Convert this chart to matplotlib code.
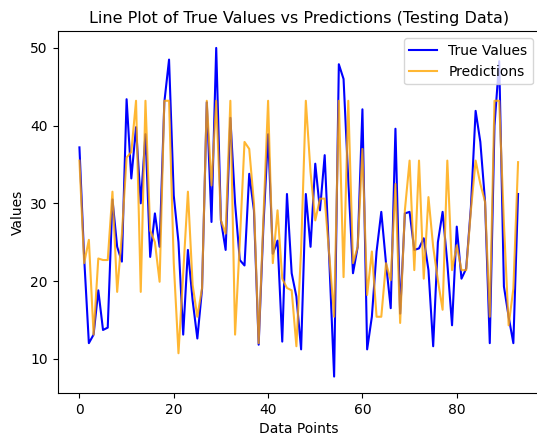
import matplotlib
matplotlib.use("Agg")
import matplotlib.pyplot as plt
import numpy as np

# values (94 test samples)
true_values = [
    37.2, 23.0, 12.0, 13.1, 18.8, 13.7, 14.0, 30.5, 24.4, 22.5,
    43.4, 33.2, 39.8, 30.0, 38.9, 23.1, 28.7, 24.4, 43.0, 48.5,
    31.0, 25.0, 13.1, 24.0, 17.5, 12.6, 19.0, 43.0, 27.6, 50.0,
    27.8, 24.0, 41.0, 30.0, 22.7, 22.0, 33.8, 29.1, 11.8, 27.0,
    38.9, 23.5, 25.2, 12.2, 31.2, 21.0, 18.0, 11.2, 31.2, 24.4,
    35.1, 29.1, 36.2, 22.3, 7.7, 47.9, 46.0, 33.0, 21.0, 24.4,
    42.1, 11.2, 15.4, 23.8, 28.9, 22.3, 16.5, 39.6, 15.8, 28.7,
    28.9, 24.0, 24.2, 25.5, 21.4, 11.6, 25.0, 28.9, 22.3, 14.3,
    27.0, 20.3, 21.6, 29.5, 41.9, 37.9, 30.2, 12.0, 40.0, 48.3,
    19.3, 15.4, 12.0, 31.2,
]
predictions = [
    35.5, 22.3, 25.3, 13.1, 22.9, 22.7, 22.7, 31.5, 18.6, 26.0,
    35.9, 36.6, 43.2, 18.6, 43.2, 26.5, 25.0, 19.9, 43.2, 43.2,
    22.3, 10.7, 21.0, 31.5, 19.5, 15.4, 19.1, 43.2, 32.3, 43.2,
    27.8, 26.1, 43.2, 13.1, 25.0, 37.9, 37.0, 30.0, 12.0, 28.0,
    43.2, 22.3, 29.1, 20.3, 19.1, 18.8, 11.6, 24.0, 43.2, 34.0,
    27.8, 30.6, 30.6, 23.1, 15.4, 43.2, 20.5, 43.2, 22.3, 24.4,
    37.0, 18.2, 23.8, 15.4, 15.4, 22.3, 20.1, 32.5, 14.6, 29.1,
    35.5, 21.4, 35.5, 20.3, 30.8, 24.4, 20.1, 16.3, 35.5, 21.4,
    24.6, 21.4, 21.4, 29.1, 35.5, 32.5, 30.2, 15.4, 43.2, 43.2,
    27.4, 14.3, 19.0, 35.3,
]

fig = plt.figure(figsize=(5.37, 4.36), dpi=100)
# the reference is cropped a couple of pixels past the right spine
ax = fig.add_axes([57.5 / 537, 43 / 436, (540 - 57.5) / 537, (393 - 31.5) / 436])

ax.plot(true_values, color="blue", linewidth=1.5, label="True Values")
ax.plot(predictions, color="orange", alpha=0.8, linewidth=1.5, label="Predictions")

ax.set_title("Line Plot of True Values vs Predictions (Testing Data)", fontsize=11.5)
ax.set_xlabel("Data Points", fontsize=10)
ax.set_ylabel("Values", fontsize=10)
ax.tick_params(labelsize=10)
ax.legend(loc="upper right", fontsize=10)

fig.savefig("out.png", dpi=100)
